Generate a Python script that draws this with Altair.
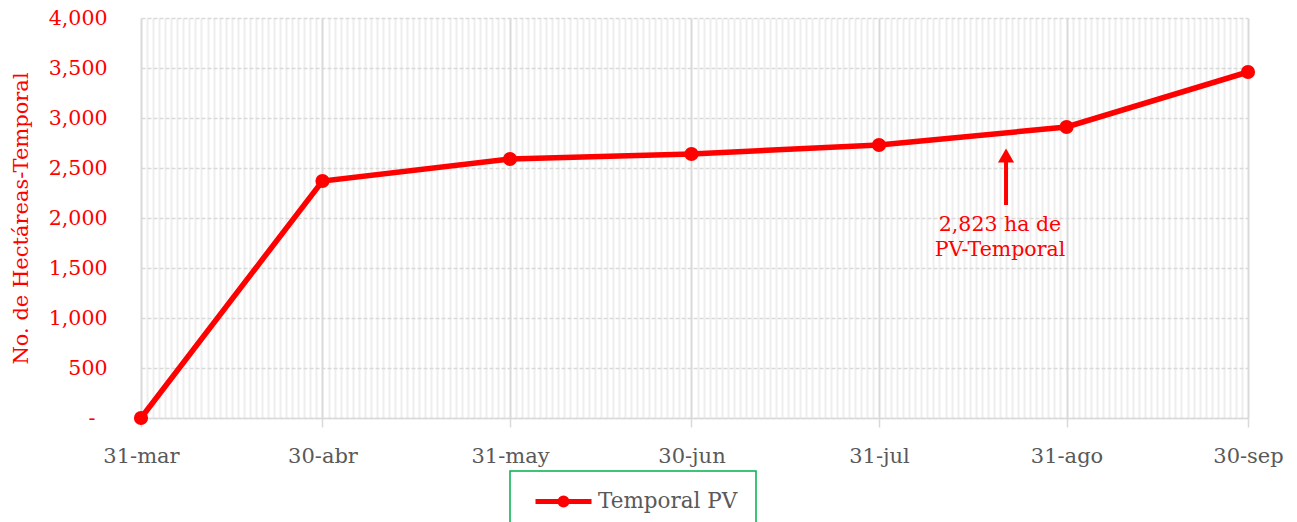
import altair as alt
import pandas as pd

# ---- data ----
dates = ["2023-03-31", "2023-04-30", "2023-05-31", "2023-06-30",
         "2023-07-31", "2023-08-31", "2023-09-30"]
tick_labels = ["31-mar", "30-abr", "31-may", "30-jun", "31-jul", "31-ago", "30-sep"]
values = [0, 2370, 2590, 2640, 2730, 2910, 3460]
series_name = "Temporal PV"

y_ticks = [0, 500, 1000, 1500, 2000, 2500, 3000, 3500, 4000]

annot_arrow_date = ["2023-08-21"]
annot_arrow_from = [2130]
annot_arrow_to = [2600]
annot_head_value = [2625]
annot_text_date = ["2023-08-20", "2023-08-20"]
annot_text = ["2,823 ha de", "PV-Temporal"]
annot_text_value = [1930, 1680]

# ---- tables ----
df = pd.DataFrame({"date": dates, "value": values, "series": series_name})
arrow_df = pd.DataFrame({"date": annot_arrow_date, "y0": annot_arrow_from,
                         "y1": annot_arrow_to, "head": annot_head_value})
text_df = pd.DataFrame({"date": annot_text_date, "value": annot_text_value,
                        "label": annot_text})

FONT = "DejaVu Serif"
RED = "#ff0000"
GREY = "#595959"

ts = [int(pd.Timestamp(d, tz="UTC").value // 10**6) for d in dates]
ts_list = "[" + ",".join(str(t) for t in ts) + "]"
lab_list = "[" + ",".join("'" + l + "'" for l in tick_labels) + "]"
major_test = f"indexof({ts_list}, time(datum.value)) >= 0"
label_expr = f"{major_test} ? {lab_list}[indexof({ts_list}, time(datum.value))] : ''"

xscale = alt.Scale(type="utc", domain=[alt.DateTime(year=2023, month=3, date=31, utc=True),
                                       alt.DateTime(year=2023, month=9, date=30, utc=True)],
                   nice=False)
yscale = alt.Scale(domain=[0, 4000], nice=False)

xaxis = alt.Axis(
    title=None,
    tickCount={"interval": "day", "step": 1},
    labelExpr=label_expr,
    labelOverlap=False, labelFlush=False, labelBound=False,
    labelFont=FONT, labelFontSize=21, labelColor=GREY, labelPadding=18,
    labelBaseline="top",
    grid=True,
    gridColor={"condition": {"test": major_test, "value": "#d9d9d9"}, "value": "#eeeeee"},
    gridWidth=2,
    ticks=True, tickSize=9, tickWidth=1.5, tickColor="#d9d9d9",
    tickOpacity={"condition": {"test": major_test, "value": 1}, "value": 0},
    domain=True, domainColor="#d9d9d9", domainWidth=1.5,
)

yaxis = alt.Axis(
    title="No. de Hectáreas-Temporal",
    titleFont=FONT, titleFontSize=21, titleFontWeight="normal", titleColor=RED,
    titleAngle=270, titleX=-120, titleY=200, titleAlign="center", titleBaseline="middle",
    values=y_ticks,
    labelExpr="datum.value == 0 ? '-' : format(datum.value, ',')",
    labelFont=FONT, labelFontSize=20.5, labelColor=RED,
    labelPadding={"condition": {"test": "datum.value == 0", "value": 46}, "value": 34},
    grid=True, gridColor="#d9d9d9", gridDash=[4, 2], gridWidth=1.5,
    ticks=False, domain=False,
)

legend = alt.Legend(
    title=None, orient="none", legendX=369, legendY=453,
    symbolType="M-2.8,0L2.8,0M-0.35,0A0.35,0.35 0 1 1 0.35,0A0.35,0.35 0 1 1 -0.35,0",
    symbolSize=400, symbolStrokeWidth=5, symbolStrokeColor=RED, symbolFillColor=RED,
    symbolOffset=23, labelOffset=22,
    labelFont=FONT, labelFontSize=21.5, labelColor=GREY,
    padding=18, strokeColor="#00b050", fillColor="white",
)

line = alt.Chart(df).mark_line(strokeWidth=5.5).encode(
    x=alt.X("date:T", scale=xscale, axis=xaxis),
    y=alt.Y("value:Q", scale=yscale, axis=yaxis),
    color=alt.Color("series:N", scale=alt.Scale(domain=[series_name], range=[RED]), legend=legend),
)
points = alt.Chart(df).mark_circle(size=200, opacity=1, color=RED).encode(
    x="date:T", y="value:Q"
)
arrow = alt.Chart(arrow_df).mark_rule(color=RED, strokeWidth=4).encode(
    x="date:T", y="y0:Q", y2="y1:Q"
)
head = alt.Chart(arrow_df).mark_point(shape="triangle-up", filled=True, size=260,
                                      color=RED, opacity=1).encode(
    x="date:T", y="head:Q"
)
text = alt.Chart(text_df).mark_text(font=FONT, fontSize=20.5, color=RED,
                                    baseline="middle", align="center").encode(
    x="date:T", y="value:Q", text="label:N"
)

chart = alt.layer(line, points, arrow, head, text).properties(
    width=1107, height=400,
    autosize="none",
    padding={"left": 133, "top": 10, "right": 41, "bottom": 110},
    title=alt.TitleParams("Ciclo PV", offset=5, dx=-62, font=FONT, fontSize=20,
                          fontWeight="normal", color=GREY),
).configure_view(stroke=None).configure_legend(strokeWidth=1.5)

chart.save("out.html", embed_options={"renderer": "svg", "actions": False})
